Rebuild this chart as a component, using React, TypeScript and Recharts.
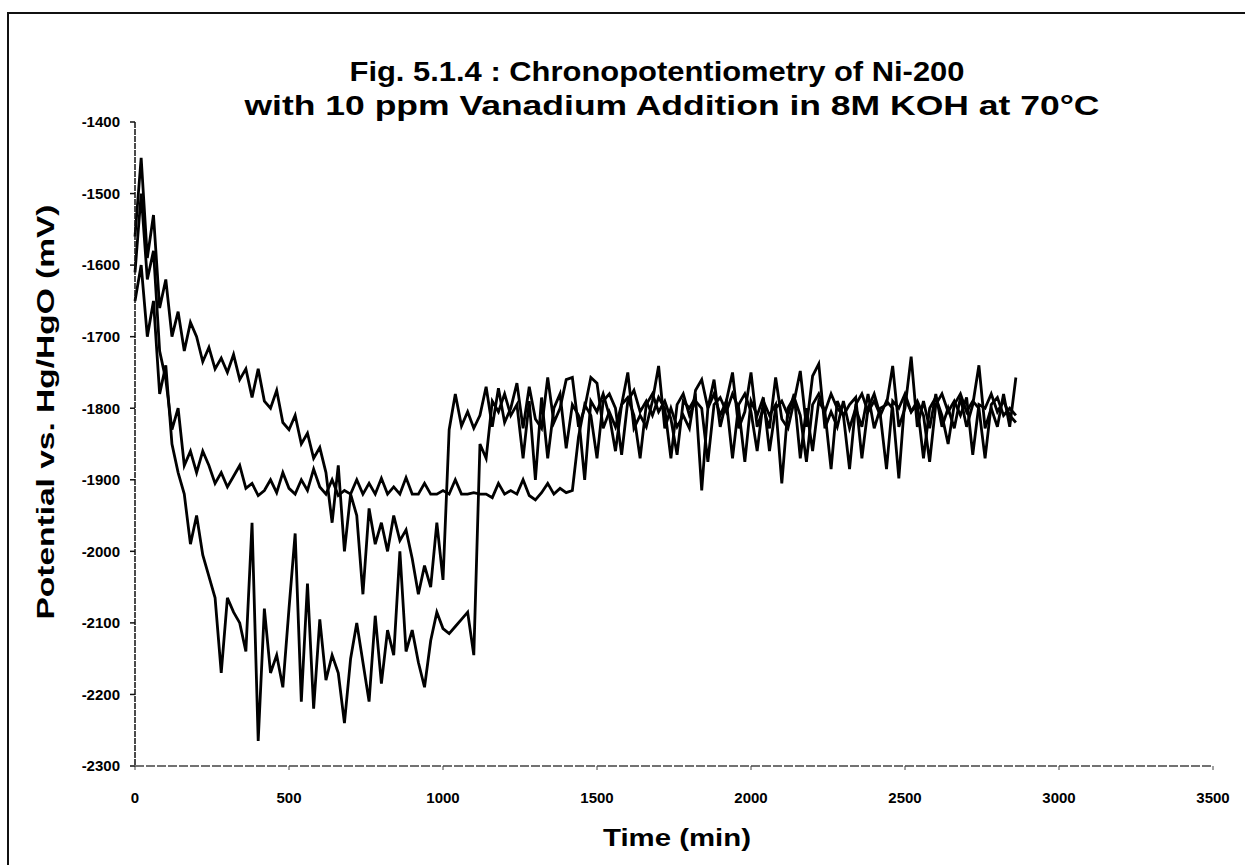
import React from "react";
import { LineChart, Line, XAxis, YAxis } from "recharts";

// sampling times (min)
const minutes = [
  0, 20, 40, 60, 80, 100, 120, 140, 160, 180,
  200, 220, 240, 260, 280, 300, 320, 340, 360, 380,
  400, 420, 440, 460, 480, 500, 520, 540, 560, 580,
  600, 620, 640, 660, 680, 700, 720, 740, 760, 780,
  800, 820, 840, 860, 880, 900, 920, 940, 960, 980,
  1000, 1020, 1040, 1060, 1080, 1100, 1120, 1140, 1160, 1180,
  1200, 1220, 1240, 1260, 1280, 1300, 1320, 1340, 1360, 1380,
  1400, 1420, 1440, 1460, 1480, 1500, 1520, 1540, 1560, 1580,
  1600, 1620, 1640, 1660, 1680, 1700, 1720, 1740, 1760, 1780,
  1800, 1820, 1840, 1860, 1880, 1900, 1920, 1940, 1960, 1980,
  2000, 2020, 2040, 2060, 2080, 2100, 2120, 2140, 2160, 2180,
  2200, 2220, 2240, 2260, 2280, 2300, 2320, 2340, 2360, 2380,
  2400, 2420, 2440, 2460, 2480, 2500, 2520, 2540, 2560, 2580,
  2600, 2620, 2640, 2660, 2680, 2700, 2720, 2740, 2760, 2780,
  2800, 2820, 2840, 2860,
];

// run 1: slow decline, switches near 1010 min
const run1 = [
  -1560, -1450, -1590, -1530, -1660, -1620, -1700, -1665, -1720, -1680,
  -1700, -1735, -1715, -1745, -1730, -1750, -1725, -1760, -1745, -1785,
  -1745, -1790, -1800, -1775, -1820, -1830, -1810, -1850, -1835, -1870,
  -1855, -1890, -1960, -1880, -2000, -1920, -1950, -2060, -1940, -1990,
  -1960, -2000, -1950, -1985, -1970, -2010, -2060, -2020, -2050, -1960,
  -2040, -1830, -1780, -1825, -1805, -1828, -1810, -1770, -1826, -1772,
  -1820, -1800, -1765, -1828, -1770, -1815, -1828, -1757, -1820, -1800,
  -1760, -1757, -1826, -1800, -1757, -1765, -1828, -1805, -1826, -1795,
  -1750, -1828, -1810, -1826, -1790, -1741, -1828, -1800, -1826, -1810,
  -1828, -1775, -1760, -1800, -1760, -1826, -1790, -1750, -1828, -1805,
  -1750, -1826, -1800, -1828, -1757, -1815, -1828, -1790, -1748, -1826,
  -1755, -1738, -1828, -1805, -1826, -1790, -1828, -1800, -1826, -1780,
  -1828, -1800, -1795, -1741, -1826, -1800, -1728, -1826, -1790, -1828,
  -1780, -1826, -1800, -1828, -1785, -1826, -1795, -1740, -1828, -1800,
  -1826, -1780, -1826, -1757,
];

// run 2: plateau near -1920 mV, switches near 1430 min
const run2 = [
  -1610, -1500, -1620, -1580, -1720, -1760, -1830, -1800, -1880, -1860,
  -1890, -1860, -1880, -1905, -1890, -1910, -1895, -1880, -1912, -1905,
  -1922, -1915, -1900, -1918, -1890, -1912, -1920, -1900, -1915, -1885,
  -1910, -1920, -1900, -1922, -1915, -1920, -1900, -1920, -1905, -1920,
  -1898, -1920, -1910, -1920, -1897, -1920, -1920, -1905, -1920, -1920,
  -1915, -1920, -1900, -1920, -1920, -1918, -1920, -1920, -1925, -1905,
  -1920, -1915, -1920, -1900, -1922, -1928, -1918, -1905, -1920, -1912,
  -1918, -1915, -1840, -1795, -1810, -1870, -1790, -1780, -1800, -1865,
  -1790, -1775, -1805, -1790, -1810, -1785, -1800, -1870, -1795, -1780,
  -1810, -1790, -1800, -1875, -1795, -1785, -1805, -1780, -1800, -1875,
  -1790, -1810, -1785, -1860, -1800, -1790, -1810, -1780, -1870, -1800,
  -1860, -1790, -1805, -1780, -1800, -1810, -1885, -1795, -1780, -1805,
  -1790, -1810, -1885, -1790, -1800, -1780, -1805, -1795, -1870, -1800,
  -1785, -1810, -1850, -1795, -1780, -1805, -1790, -1800, -1870, -1795,
  -1785, -1810, -1800, -1810,
];

// run 3: deep drop to about -2150 mV, switches near 1110 min
const run3 = [
  -1650, -1600, -1700, -1650, -1780, -1740, -1850, -1890, -1920, -1990,
  -1950, -2005, -2035, -2065, -2170, -2065, -2085, -2100, -2140, -1960,
  -2265, -2080, -2170, -2145, -2190, -2080, -1975, -2210, -2045, -2220,
  -2095, -2180, -2145, -2170, -2240, -2150, -2100, -2155, -2210, -2090,
  -2185, -2110, -2145, -2000, -2140, -2110, -2155, -2190, -2125, -2085,
  -2108, -2115, -2105, -2095, -2085, -2145, -1850, -1870, -1790, -1805,
  -1780, -1810, -1795, -1870, -1790, -1900, -1785, -1870, -1800, -1780,
  -1856, -1795, -1810, -1900, -1790, -1805, -1780, -1810, -1860, -1795,
  -1785, -1810, -1870, -1795, -1780, -1805, -1790, -1815, -1865, -1790,
  -1800, -1785, -1915, -1800, -1780, -1810, -1790, -1870, -1795, -1780,
  -1805, -1860, -1790, -1810, -1795, -1905, -1800, -1785, -1810, -1875,
  -1795, -1780, -1805, -1885, -1790, -1810, -1795, -1785, -1870, -1800,
  -1780, -1810, -1790, -1800, -1898, -1785, -1805, -1790, -1810, -1875,
  -1795, -1780, -1805, -1790, -1810, -1785, -1865, -1795, -1800, -1780,
  -1805, -1790, -1810, -1820,
];

const xTicks = [0, 500, 1000, 1500, 2000, 2500, 3000, 3500];
const yTicks = [-2300, -2200, -2100, -2000, -1900, -1800, -1700, -1600, -1500, -1400];

const data = minutes.map((t, i) => ({ t, r1: run1[i], r2: run2[i], r3: run3[i] }));

const font = "'Liberation Sans', Arial, Helvetica, sans-serif";
const tickStyle = { fontFamily: font, fontWeight: 700, fontSize: 15, fill: "#000" };

export default function App() {
  return (
    <div style={{ position: "fixed", left: 0, top: 0, width: 1245, height: 865, background: "#fff" }}>
      <div
        style={{
          position: "absolute",
          left: 7,
          top: 12,
          width: 1238,
          height: 853,
          borderTop: "2px solid #111",
          borderLeft: "2px solid #111",
        }}
      />
      <LineChart
        width={1245}
        height={865}
        data={data}
        margin={{ top: 122, right: 32, left: 60, bottom: 59 }}
      >
        <XAxis
          dataKey="t"
          type="number"
          domain={[0, 3500]}
          ticks={xTicks}
          height={40}
          tickSize={4}
          tickMargin={22}
          tick={tickStyle}
          axisLine={{ stroke: "#444", strokeWidth: 1.5, strokeDasharray: "9 2" }}
          tickLine={{ stroke: "#444" }}
        />
        <YAxis
          type="number"
          domain={[-2300, -1400]}
          ticks={yTicks}
          width={75}
          tickSize={5}
          tickMargin={10}
          tick={tickStyle}
          axisLine={{ stroke: "#111", strokeWidth: 1.5, strokeDasharray: "6 1" }}
          tickLine={{ stroke: "#111", strokeWidth: 1.5 }}
        />
        <Line type="linear" dataKey="r1" stroke="#000" strokeWidth={2.8} dot={false} isAnimationActive={false} />
        <Line type="linear" dataKey="r2" stroke="#000" strokeWidth={2.8} dot={false} isAnimationActive={false} />
        <Line type="linear" dataKey="r3" stroke="#000" strokeWidth={2.8} dot={false} isAnimationActive={false} />
      </LineChart>
      <svg
        width={1245}
        height={865}
        style={{ position: "absolute", left: 0, top: 0, pointerEvents: "none" }}
      >
        <g fontFamily={font} fontWeight={700} fill="#000" textAnchor="middle">
          <text x={657} y={81} fontSize={27} textLength={615} lengthAdjust="spacingAndGlyphs">
            Fig. 5.1.4 : Chronopotentiometry of Ni-200
          </text>
          <text x={672} y={115} fontSize={27} textLength={855} lengthAdjust="spacingAndGlyphs">
            with 10 ppm Vanadium Addition in 8M KOH at 70°C
          </text>
          <text x={677} y={846} fontSize={24} textLength={148} lengthAdjust="spacingAndGlyphs">
            Time (min)
          </text>
          <text
            x={54}
            y={412}
            fontSize={24}
            textLength={415}
            lengthAdjust="spacingAndGlyphs"
            transform="rotate(-90 54 412)"
          >
            Potential vs. Hg/HgO  (mV)
          </text>
        </g>
      </svg>
    </div>
  );
}
